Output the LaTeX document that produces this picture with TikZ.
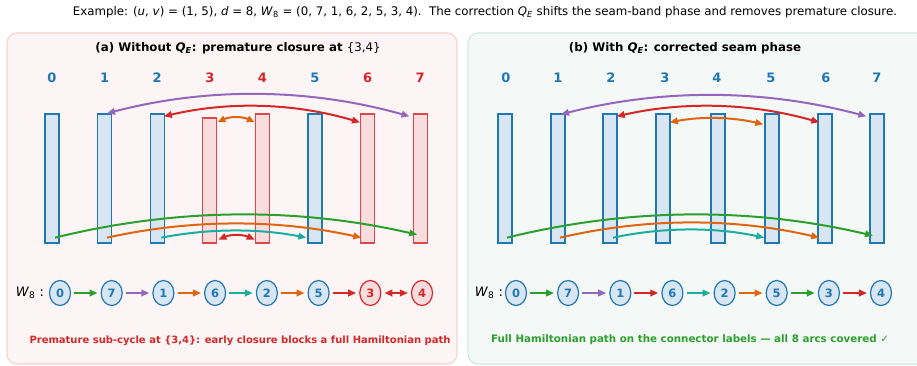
\documentclass[tikz,border=0pt]{standalone}
\usepackage{fontspec}
\setmainfont{DejaVu Sans}
\usetikzlibrary{arrows.meta,shapes.geometric,calc}

\definecolor{cblue}{HTML}{1F77B4}
\definecolor{cred}{HTML}{D62728}
\definecolor{cgreen}{HTML}{2CA02C}
\definecolor{cpurple}{HTML}{9467BD}
\definecolor{corange}{HTML}{DF660E}
\definecolor{cteal}{HTML}{1AAE9F}
\definecolor{barblue}{HTML}{D8E6F3}
\definecolor{barred}{HTML}{F9DCDD}
\definecolor{panelA}{HTML}{FDF5F5}
\definecolor{panelAedge}{HTML}{F7D3D3}
\definecolor{panelB}{HTML}{F4F8F7}
\definecolor{panelBedge}{HTML}{D3E8E1}

\begin{document}
\begin{tikzpicture}[x=1pt,y=-1pt,
  bar/.style={draw=cblue, fill=barblue, line width=1.3pt, minimum width=14pt,
    minimum height=129pt, inner sep=0pt},
  redbar/.style={bar, draw=cred!85, fill=barred},
  colnum/.style={font=\fontsize{13}{15}\selectfont\bfseries, text=cblue},
  rednum/.style={colnum, text=cred},
  wnode/.style={ellipse, draw=cblue, fill=barblue, line width=1.2pt, minimum width=21pt,
    minimum height=25pt, inner sep=0pt, text=cblue, font=\fontsize{11.5}{13}\selectfont\bfseries},
  rednode/.style={wnode, draw=cred, fill=barred, text=cred},
  tip/.tip={Triangle[length=8pt,width=6.5pt]},
  arc/.style={line width=2pt, -tip},
  darc/.style={line width=2pt, tip-tip},
  arcup/.style={to path={.. controls ($(\tikztostart)!1/3!(\tikztotarget)+(0,-#1*4/3)$)
    and ($(\tikztostart)!2/3!(\tikztotarget)+(0,-#1*4/3)$) .. (\tikztotarget) \tikztonodes}},
  link/.style={line width=2pt, -tip, shorten <=3pt, shorten >=3pt},
  dlink/.style={line width=2pt, tip-tip, shorten <=3pt, shorten >=3pt},
  ptitle/.style={font=\fontsize{11.8}{14}\selectfont\bfseries},
  caption/.style={font=\fontsize{10}{12}\selectfont\bfseries}
]
\useasboundingbox (0,0) rectangle (917,366);
\clip (0,0) rectangle (917,366);
\fill[white] (0,0) rectangle (917,366);

% overall heading
\node[font=\fontsize{11.8}{14}\selectfont] (head) at (485,12)
  {Example: (\textit{u}, \textit{v}) = (1, 5), \textit{d} = 8, \textit{W}\textsubscript{8} = (0, 7, 1, 6, 2, 5, 3, 4).\ \ The correction \textit{Q}\textsubscript{\textit{E}} shifts the seam-band phase and removes premature closure.};

% panel backgrounds
\draw[fill=panelA, draw=panelAedge, line width=1.2pt, rounded corners=10pt] (7,33) rectangle (457,364);
\draw[fill=panelB, draw=panelBedge, line width=1.2pt, rounded corners=10pt] (468,33) rectangle (935,364);

% ---------- panel (a) ----------
\node[ptitle] (ta) at (238,48) {(a) Without \textit{Q}\textsubscript{\textit{E}}: premature closure at \textmd{\{3,4\}}};

\foreach \i/\x/\s in {0/52/colnum,1/104.6/colnum,2/157.2/colnum,3/209.8/rednum,4/262.4/rednum,5/315/colnum,6/367.6/rednum,7/420.2/rednum}
  \node[\s] (na\i) at (\x,78) {\i};

\node[bar] (a0) at (52,178.5) {};
\node[bar] (a1) at (104.6,178.5) {};
\node[bar] (a2) at (157.2,178.5) {};
\node[redbar, minimum height=125pt] (a3) at (209.8,180.5) {};
\node[redbar] (a4) at (262.4,178.5) {};
\node[bar] (a5) at (315,178.5) {};
\node[redbar] (a6) at (367.6,178.5) {};
\node[redbar] (a7) at (420.2,178.5) {};

% upper arcs
\draw[darc, cpurple] ([xshift=2.4pt]a1.north) to[arcup=20.5] ([xshift=-3pt,yshift=-3pt]a7.north west);
\draw[darc, cred] ([xshift=-1pt,yshift=-3pt]a2.north east) to[arcup=13] ([yshift=-9pt]a6.north west);
\draw[darc, corange] ([yshift=-5pt]a3.north east) to[arcup=4.5] ([yshift=-9pt]a4.north west);
% lower arcs
\draw[arc, cgreen] ([xshift=3pt,yshift=6pt]a0.south) to[arcup=21.5] ([xshift=-3pt,yshift=9pt]a7.south);
\draw[arc, corange] ([xshift=2.4pt,yshift=6pt]a1.south) to[arcup=14] ([xshift=1.4pt,yshift=6pt]a6.south west);
\draw[arc, cteal] ([xshift=4pt,yshift=6pt]a2.south) to[arcup=7] ([xshift=-1pt,yshift=6pt]a5.south west);
\draw[darc, cred] ([xshift=1pt,yshift=4pt]a3.south east) to[arcup=4] ([yshift=4pt]a4.south west);

% walk W_8
\node[font=\fontsize{13}{15}\selectfont] (wa) at (30,293) {\textit{W}\textsubscript{8} :};
\node[wnode] (pa0) at (60,293) {0};
\node[wnode] (pa7) at (111.7,293) {7};
\node[wnode] (pa1) at (163.4,293) {1};
\node[wnode] (pa6) at (215.1,293) {6};
\node[wnode] (pa2) at (266.9,293) {2};
\node[wnode] (pa5) at (318.6,293) {5};
\node[rednode] (pa3) at (370.3,293) {3};
\node[rednode] (pa4) at (422,293) {4};
\draw[link, cgreen] (pa0) -- (pa7);
\draw[link, cpurple] (pa7) -- (pa1);
\draw[link, corange] (pa1) -- (pa6);
\draw[link, cteal] (pa6) -- (pa2);
\draw[link, corange] (pa2) -- (pa5);
\draw[link, cred] (pa5) -- (pa3);
\draw[dlink, cred] (pa3) -- (pa4);

\node[caption, text=cred] (ca) at (240,341) {Premature sub-cycle at \{3,4\}: early closure blocks a full Hamiltonian path};

% ---------- panel (b) ----------
\node[ptitle] (tb) at (685,48) {(b) With \textit{Q}\textsubscript{\textit{E}}: corrected seam phase};

\foreach \i/\x in {0/506,1/558,2/611,3/665,4/717,5/771,6/826,7/877}
  \node[colnum] (nb\i) at (\x,78) {\i};

\foreach \i/\x in {0/505,1/558,2/610,3/663,4/718,5/772,6/825,7/877}
  \node[bar] (b\i) at (\x,178.5) {};

% upper arcs
\draw[darc, cpurple] ([xshift=3pt,yshift=-1pt]b1.north) to[arcup=20] ([xshift=-3pt,yshift=-3pt]b7.north west);
\draw[darc, cred] ([xshift=-1pt,yshift=-3pt]b2.north east) to[arcup=13] ([xshift=2pt,yshift=-9pt]b6.north west);
\draw[darc, corange] ([xshift=-1pt,yshift=-9pt]b3.north east) to[arcup=5] ([xshift=-1pt,yshift=-11pt]b5.north west);
% lower arcs
\draw[arc, cgreen] ([xshift=2pt,yshift=6pt]b0.south) to[arcup=22] ([xshift=-4pt,yshift=8pt]b7.south);
\draw[arc, corange] ([xshift=2pt,yshift=6pt]b1.south) to[arcup=15] ([xshift=2pt,yshift=6pt]b6.south west);
\draw[arc, cteal] ([xshift=3pt,yshift=6pt]b2.south) to[arcup=8] ([yshift=6pt]b5.south west);

% walk W_8
\node[font=\fontsize{13}{15}\selectfont] (wb) at (489,293) {\textit{W}\textsubscript{8} :};
\node[wnode] (pb0) at (516,293) {0};
\node[wnode] (pb7) at (568.1,293) {7};
\node[wnode] (pb1) at (620.3,293) {1};
\node[wnode] (pb6) at (672.4,293) {6};
\node[wnode] (pb2) at (724.6,293) {2};
\node[wnode] (pb5) at (776.7,293) {5};
\node[wnode] (pb3) at (828.9,293) {3};
\node[wnode] (pb4) at (881,293) {4};
\draw[link, cgreen] (pb0) -- (pb7);
\draw[link, cpurple] (pb7) -- (pb1);
\draw[link, cred] (pb1) -- (pb6);
\draw[link, cteal] (pb6) -- (pb2);
\draw[link, corange] (pb2) -- (pb5);
\draw[link, cgreen] (pb5) -- (pb3);
\draw[link, cred] (pb3) -- (pb4);

\node[caption, text=cgreen, font=\fontsize{10.3}{12}\selectfont\bfseries] (cb) at (690,340) {Full Hamiltonian path on the connector labels — all 8 arcs covered ✓};
\end{tikzpicture}
\end{document}
